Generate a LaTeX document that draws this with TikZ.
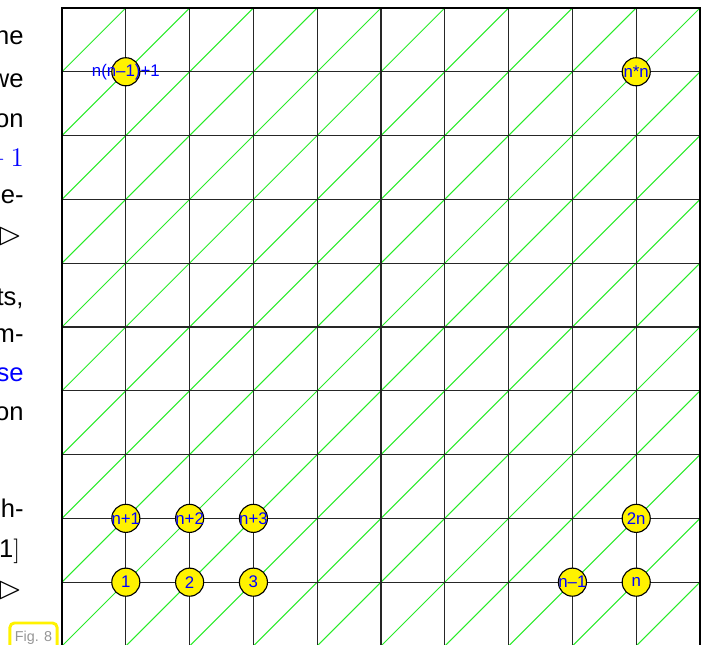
\documentclass[tikz,border=0pt]{standalone}
\usepackage{amssymb}
\usepackage{fontspec}
\setmainfont{Liberation Sans}
\definecolor{meshgreen}{RGB}{40,235,40}
\definecolor{figgray}{RGB}{150,150,150}
\tikzset{
  slidetext/.style={anchor=base east,inner sep=0pt,font=\fontsize{11.4}{14}\selectfont},
  slidemath/.style={slidetext,font=\fontsize{13}{16}\selectfont},
  vtx/.style={circle,draw=black,line width=0.5pt,fill=yellow,minimum size=0.44cm,inner sep=0pt},
  vtxlabel/.style={inner sep=0pt,text=blue,font=\fontsize{7.5}{8}\selectfont},
  figbox/.style={draw=yellow,line width=1.3pt,rounded corners=2pt,fill=white,text=figgray,
    minimum width=0.74cm,minimum height=0.46cm,inner sep=1pt,font=\fontsize{6.4}{7}\selectfont}
}
\begin{document}
\begin{tikzpicture}
  \useasboundingbox (-0.972,0.016) rectangle (10.078,10.125);
  % slide text cut off at the left
  \node[slidetext] (l1) at (-0.596,9.42) {he};
  \node[slidetext] (l2) at (-0.596,8.76) {we};
  \node[slidetext] (l3) at (-0.596,8.13) {on};
  \node[slidemath] (l4) at (-0.59,7.52) {\color{blue}${}+1$};
  \node[slidetext] (l5) at (-0.596,6.94) {e-};
  \node[slidemath] (l6) at (-0.62,6.30) {\scalebox{1.1}{$\rhd$}};
  \node[slidetext] (l7) at (-0.596,5.34) {ts,};
  \node[slidetext] (l8) at (-0.596,4.75) {m-};
  \node[slidetext] (l9) at (-0.596,4.14) {\color{blue}se};
  \node[slidetext] (l10) at (-0.596,3.54) {on};
  \node[slidetext] (l11) at (-0.596,2.01) {h-};
  \node[slidetext] (l12) at (-0.65,1.38) {1$\big]$};
  \node[slidemath] (l13) at (-0.62,0.74) {\scalebox{1.1}{$\rhd$}};
  \node[figbox] (fig) at (-0.447,0.13) {Fig. 8};
  % mesh
  \begin{scope}
    \clip (0,0) rectangle (10,10);
    \foreach \c in {-10,...,10}
      \draw[meshgreen,line width=0.45pt] (\c,0) -- ++(10,10);
  \end{scope}
  \draw[black!85,line width=0.55pt] (0,0) grid (10,10);
  \draw[black,line width=1pt] (0,0) rectangle (10,10);
  % numbered vertices
  \foreach \i/\j/\t in {1/1/1, 2/1/2, 3/1/3, 8/1/n–1, 9/1/n,
                        1/2/n+1, 2/2/n+2, 3/2/n+3, 9/2/2n,
                        1/9/n(n–1)+1, 9/9/n*n} {
    \node[vtx] (v\i\j) at (\i,\j) {};
    \node[vtxlabel] (t\i\j) at (v\i\j) {\t};
  }
\end{tikzpicture}
\end{document}
